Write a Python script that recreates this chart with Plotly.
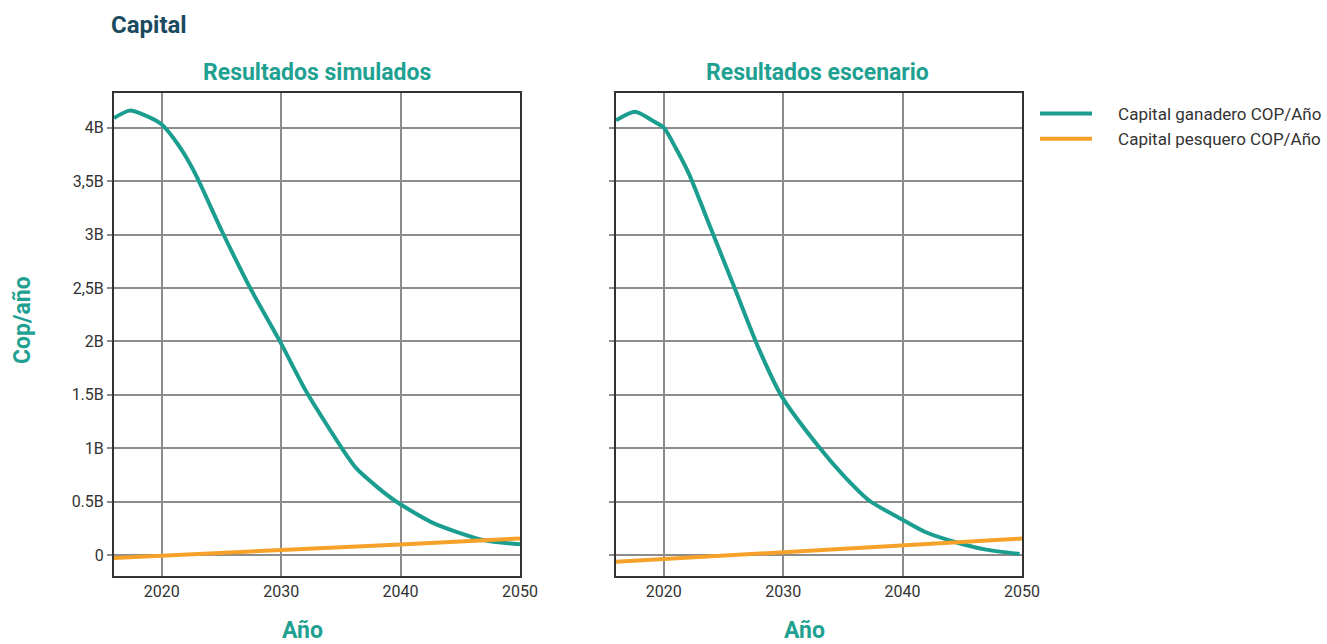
import plotly.graph_objects as go

# --- data (COP, in billions; scaled by 1e9 when plotted) --------------------
years_sim_gan = [2016, 2017.3, 2018.5, 2020, 2021.5, 2022.8, 2025, 2027.4, 2029.9,
                 2032.1, 2035.2, 2036.3, 2038, 2039.5, 2042.7, 2046.9, 2050]
sim_ganadero = [4.09, 4.16, 4.12, 4.03, 3.82, 3.57, 3.04, 2.50, 2.00,
                1.53, 0.98, 0.81, 0.64, 0.51, 0.30, 0.14, 0.10]

years_esc_gan = [2016, 2017.6, 2019, 2020, 2021, 2022.1, 2024, 2026, 2028,
                 2029.9, 2033, 2035, 2037.2, 2040, 2042, 2044.75, 2047, 2049.8]
esc_ganadero = [4.07, 4.15, 4.07, 4.00, 3.81, 3.57, 3.04, 2.48, 1.92,
                1.48, 1.01, 0.75, 0.51, 0.33, 0.21, 0.11, 0.05, 0.01]

years_pes = [2016, 2020, 2030, 2040, 2050]
sim_pesquero = [-0.028, -0.005, 0.046, 0.099, 0.155]
esc_pesquero = [-0.063, -0.037, 0.025, 0.090, 0.153]

y_tickvals = [0, 0.5, 1, 1.5, 2, 2.5, 3, 3.5, 4]
y_ticktext = ["0", "0.5B", "1B", "1.5B", "2B", "2,5B", "3B", "3,5B", "4B"]
x_tickvals = [2020, 2030, 2040, 2050]

series_names = ["Capital ganadero COP/Año", "Capital pesquero COP/Año"]

B = 1e9
TEAL = "#1b9e8f"
ORANGE = "#f5a12a"
TITLE_TEAL = "#1fa192"
DARK = "#1b4a5f"
FONT = "Roboto"

W, H = 1327, 644


def px_x(p):
    return p / W


def px_y(p):
    return 1 - p / H


# non-breaking spaces open a gap between legend swatch and label
PAD = "\u00a0" * 5

fig = go.Figure()

fig.add_trace(go.Scatter(x=years_sim_gan, y=[v * B for v in sim_ganadero],
                         mode="lines", name=PAD + series_names[0],
                         line=dict(color=TEAL, width=4, shape="spline", smoothing=0.7),
                         xaxis="x", yaxis="y"))
fig.add_trace(go.Scatter(x=years_pes, y=[v * B for v in sim_pesquero],
                         mode="lines", name=PAD + series_names[1],
                         line=dict(color=ORANGE, width=4),
                         xaxis="x", yaxis="y"))
fig.add_trace(go.Scatter(x=years_esc_gan, y=[v * B for v in esc_ganadero],
                         mode="lines", name=PAD + series_names[0],
                         line=dict(color=TEAL, width=4, shape="spline", smoothing=0.7),
                         xaxis="x2", yaxis="y2", showlegend=False))
fig.add_trace(go.Scatter(x=years_pes, y=[v * B for v in esc_pesquero],
                         mode="lines", name=PAD + series_names[1],
                         line=dict(color=ORANGE, width=4),
                         xaxis="x2", yaxis="y2", showlegend=False))

grid = dict(showgrid=True, gridcolor="#8c8c8c", gridwidth=1.5,
            showline=True, linecolor="#333333", linewidth=2, mirror=True,
            zeroline=False)

xcommon = dict(grid, range=[2016, 2050], tickvals=x_tickvals, ticks="",
               tickfont=dict(family=FONT, size=16, color="#333333"))
ycommon = dict(grid, range=[-0.197 * B, 4.325 * B],
               tickvals=[v * B for v in y_tickvals], ticktext=y_ticktext,
               ticks="outside", ticklen=5, tickcolor="#8c8c8c", tickwidth=1.5,
               tickfont=dict(family=FONT, size=16, color="#333333"))

fig.update_layout(
    width=W, height=H,
    margin=dict(l=0, r=0, t=0, b=0, autoexpand=False),
    paper_bgcolor="white", plot_bgcolor="white",
    font=dict(family=FONT, color="#333333"),
    xaxis=dict(xcommon, domain=[px_x(114), px_x(520)], anchor="y"),
    yaxis=dict(ycommon, domain=[px_y(576), px_y(93)], anchor="x"),
    xaxis2=dict(xcommon, domain=[px_x(616), px_x(1022)], anchor="y2"),
    yaxis2=dict(ycommon, domain=[px_y(576), px_y(93)], anchor="x2",
                showticklabels=False),
    showlegend=True,
    legend=dict(x=px_x(1035), y=px_y(96), xanchor="left", yanchor="top",
                font=dict(family=FONT, size=17, color="#333333"),
                itemwidth=52, tracegroupgap=0, bgcolor="rgba(0,0,0,0)"),
)

ann = [
    dict(text="<b>Capital</b>", x=px_x(109), y=px_y(25), xanchor="left", yanchor="middle",
         font=dict(size=24, color=DARK)),
    dict(text="<b>Resultados simulados</b>", x=px_x(317), y=px_y(72), xanchor="center",
         yanchor="middle", font=dict(size=23, color=TITLE_TEAL)),
    dict(text="<b>Resultados escenario</b>", x=px_x(817), y=px_y(72), xanchor="center",
         yanchor="middle", font=dict(size=23, color=TITLE_TEAL)),
    dict(text="<b>Año</b>", x=px_x(302), y=px_y(630), xanchor="center", yanchor="middle",
         font=dict(size=23, color=TITLE_TEAL)),
    dict(text="<b>Año</b>", x=px_x(804), y=px_y(630), xanchor="center", yanchor="middle",
         font=dict(size=23, color=TITLE_TEAL)),
    dict(text="<b>Cop/año</b>", x=px_x(22), y=px_y(320), xanchor="center", yanchor="middle",
         textangle=-90, font=dict(size=23, color=TITLE_TEAL)),
]
for a in ann:
    a.update(xref="paper", yref="paper", showarrow=False)
    a["font"]["family"] = FONT
fig.update_layout(annotations=ann)

fig.write_html("out.html")
